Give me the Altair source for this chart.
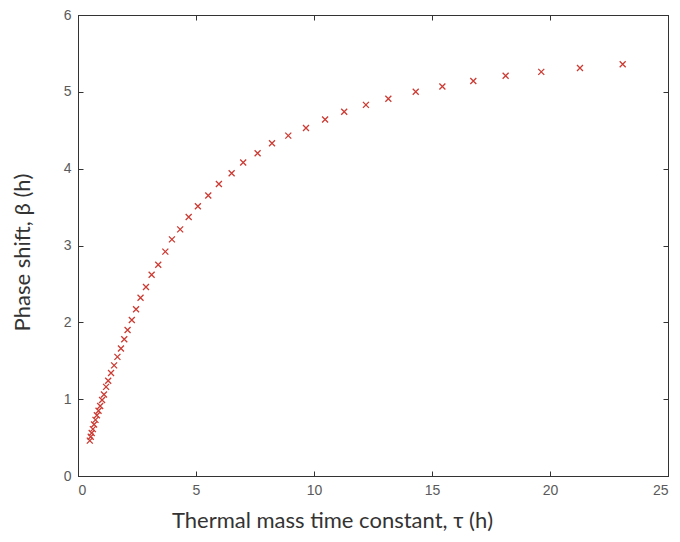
import altair as alt
import pandas as pd

tau = [0.50, 0.54, 0.58, 0.63, 0.68, 0.74, 0.80, 0.87, 0.94, 1.02,
       1.10, 1.19, 1.28, 1.40, 1.53, 1.67, 1.82, 1.96, 2.10, 2.28,
       2.46, 2.65, 2.88, 3.12, 3.40, 3.70, 3.98, 4.33, 4.69, 5.08,
       5.52, 5.97, 6.51, 7.00, 7.61, 8.22, 8.91, 9.66, 10.47, 11.28,
       12.20, 13.15, 14.31, 15.44, 16.75, 18.12, 19.63, 21.27, 23.08]
beta = [0.46, 0.51, 0.56, 0.61, 0.67, 0.73, 0.79, 0.85, 0.91, 0.99,
        1.06, 1.16, 1.24, 1.34, 1.44, 1.55, 1.66, 1.78, 1.90, 2.03,
        2.17, 2.32, 2.46, 2.62, 2.75, 2.92, 3.08, 3.21, 3.37, 3.51,
        3.65, 3.80, 3.94, 4.08, 4.20, 4.33, 4.43, 4.53, 4.64, 4.74,
        4.83, 4.91, 5.00, 5.07, 5.14, 5.21, 5.26, 5.31, 5.36]
x_ticks = [0, 5, 10, 15, 20, 25]
y_ticks = [0, 1, 2, 3, 4, 5, 6]

df = pd.DataFrame({"tau": tau, "beta": beta})

xscale = alt.Scale(domain=[0, 25], nice=False, zero=False)
yscale = alt.Scale(domain=[0, 6], nice=False, zero=False)

tick_in = alt.ExprRef(expr="-5")
common_axis = dict(
    grid=False,
    domainColor="#333333",
    tickColor="#333333",
    tickSize=tick_in,
    labelFont="Liberation Sans",
    labelFontSize=14,
    labelColor="#5a5a5a",
    titleFont="Lato",
    titleFontSize=22,
    titleFontWeight="normal",
    titleColor="#333333",
)

x_axis = alt.Axis(values=x_ticks, orient="bottom", labelPadding=12,
                  title="Thermal mass time constant, τ (h)",
                  titleX=254, titleY=51, titleBaseline="alphabetic",
                  **common_axis)
y_axis = alt.Axis(values=y_ticks, orient="left", labelPadding=12,
                  title="Phase shift, β (h)",
                  titleX=-56, titleY=237, titleBaseline="middle",
                  **common_axis)

pts = alt.Chart(df).mark_point(
    shape="M-1,-1L1,1M-1,1L1,-1", filled=False, size=36,
    strokeWidth=1.3, color="#cc3b33", opacity=1
).encode(
    x=alt.X("tau:Q", scale=xscale, axis=x_axis),
    y=alt.Y("beta:Q", scale=yscale, axis=y_axis),
)

x_axis2 = alt.Axis(values=x_ticks, orient="top", labels=False, title="",
                   grid=False, domainColor="#333333", tickColor="#333333",
                   tickSize=tick_in)
y_axis2 = alt.Axis(values=y_ticks, orient="right", labels=False, title="",
                   grid=False, domainColor="#333333", tickColor="#333333",
                   tickSize=tick_in)

mirror = alt.Chart(df).mark_point(opacity=0).encode(
    x=alt.X("tau:Q", scale=xscale, axis=x_axis2),
    y=alt.Y("beta:Q", scale=yscale, axis=y_axis2),
)

chart = alt.layer(pts, mirror).resolve_axis(
    x="independent", y="independent"
).properties(
    width=590, height=461,
    autosize=alt.AutoSizeParams(type="none"),
    padding={"left": 70, "top": 7, "right": 4, "bottom": 58},
).configure_view(stroke="#333333", strokeWidth=1)

chart.save("out.html", embed_options={"renderer": "svg", "actions": False})
